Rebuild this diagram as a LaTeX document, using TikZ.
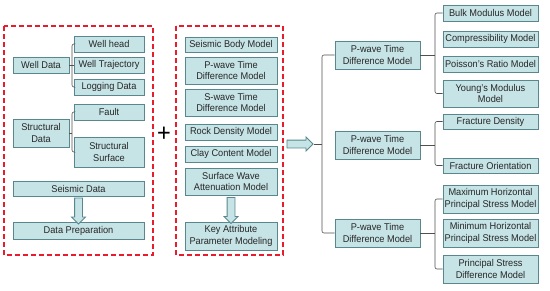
\documentclass[tikz,border=0pt]{standalone}
\usepackage{fontspec}
\setmainfont{Liberation Sans}[FakeStretch=0.94]
\usetikzlibrary{shapes.arrows,calc}
\definecolor{boxfill}{RGB}{198,227,230}
\definecolor{boxline}{RGB}{88,136,142}
\definecolor{redd}{RGB}{232,28,44}
\definecolor{brk}{RGB}{80,80,80}
\begin{document}
\begin{tikzpicture}[x=1pt,y=-1pt,
  box/.style={draw=boxline,fill=boxfill,line width=0.8pt,inner sep=0pt,align=center,
    text=black!85,font=\fontsize{9.8}{11.5}\selectfont},
  redbox/.style={draw=redd,line width=1.5pt,dash pattern=on 5pt off 3pt},
  br/.style={draw=brk,line width=0.6pt,rounded corners=2pt},
  blockarrow/.style={single arrow,draw=boxline,fill=boxfill,line width=0.8pt,
    inner sep=3.5pt,single arrow head extend=3pt,minimum height=26pt}]
\useasboundingbox (0,0) rectangle (550,290);
% red dashed frames
\draw[redbox] (4,26) rectangle (153,255);
\draw[redbox] (176,26) rectangle (283,255);
% left group
\node[box,minimum width=56,minimum height=16] (welldata) at (41,65) {Well Data};
\node[box,minimum width=70,minimum height=16] (wellhead) at (109,44) {Well head};
\node[box,minimum width=70,minimum height=16] (welltraj) at (109,65) {Well Trajectory};
\node[box,minimum width=70,minimum height=16] (logging) at (109,87) {Logging Data};
\node[box,minimum width=70,minimum height=16] (fault) at (109,112) {Fault};
\node[box,minimum width=56,minimum height=28] (structdata) at (41,133) {Structural\\Data};
\node[box,minimum width=70,minimum height=30] (structsurf) at (109,152) {Structural\\Surface};
\node[box,minimum width=131,minimum height=15] (seisdata) at (78.5,188.5) {Seismic Data};
\node[box,minimum width=131,minimum height=17] (dataprep) at (78.5,230.5) {Data Preparation};
\node[blockarrow,rotate=-90] (arrL) at ($(seisdata.south)!0.5!(dataprep.north)$) {};
\coordinate (bL1) at (72,65);
\coordinate (bL2) at (72,133);
\draw[br] (wellhead.west) -| (bL1) |- (logging.west);
\draw[br] (welldata.east) -- (welltraj.west);
\draw[br] (fault.west) -| (bL2) |- (structsurf.west);
\draw[br] (structdata.east) -- (bL2);
% plus
\node[font=\fontsize{25}{25}\selectfont,inner sep=0pt] (plus) at (164,134) {+};
% middle group
\node[box,minimum width=92,minimum height=15] (sbm) at (231,44.5) {Seismic Body Model};
\node[box,minimum width=92,minimum height=27] (pwm) at (231,70.5) {P-wave Time\\Difference Model};
\node[box,minimum width=92,minimum height=27] (swm) at (231,102.5) {S-wave Time\\Difference Model};
\node[box,minimum width=92,minimum height=16] (rock) at (231,132) {Rock Density Model};
\node[box,minimum width=92,minimum height=16] (clay) at (231,154) {Clay Content Model};
\node[box,minimum width=92,minimum height=27] (swa) at (231,181.5) {Surface Wave\\Attenuation Model};
\node[box,minimum width=92,minimum height=28] (key) at (231,236) {Key Attribute\\Parameter Modeling};
\node[blockarrow,rotate=-90] (arrM) at ($(swa.south)!0.5!(key.north)$) {};
% right arrow and brace
\node[blockarrow] (arrR) at (298,144) {};
\node[box,minimum width=85,minimum height=28] (p1) at (377.5,55) {P-wave Time\\Difference Model};
\node[box,minimum width=85,minimum height=28] (p2) at (377.5,145) {P-wave Time\\Difference Model};
\node[box,minimum width=85,minimum height=28] (p3) at (377.5,233) {P-wave Time\\Difference Model};
\coordinate (bM) at (322,144);
\draw[br] (p1.west) -| (bM) |- (p3.west);
\draw[br] (arrR.tip) -- (bM);
% right column
\node[box,minimum width=95,minimum height=16] (bulk) at (490.5,13) {Bulk Modulus Model};
\node[box,minimum width=95,minimum height=16] (comp) at (490.5,39) {Compressibility Model};
\node[box,minimum width=95,minimum height=16] (pois) at (490.5,64) {Poisson's Ratio Model};
\node[box,minimum width=95,minimum height=27] (young) at (490.5,93.5) {Young's Modulus\\Model};
\node[box,minimum width=95,minimum height=15] (fdens) at (490.5,121.5) {Fracture Density};
\node[box,minimum width=95,minimum height=15] (fori) at (490.5,165.5) {Fracture Orientation};
\node[box,minimum width=95,minimum height=28] (maxh) at (490.5,199) {Maximum Horizontal\\Principal Stress Model};
\node[box,minimum width=95,minimum height=28] (minh) at (490.5,233) {Minimum Horizontal\\Principal Stress Model};
\node[box,minimum width=95,minimum height=28] (psd) at (490.5,269) {Principal Stress\\Difference Model};
\coordinate (bR1) at (435,55);
\coordinate (bR2) at (435,145);
\coordinate (bR3) at (435,233);
\draw[br] (bulk.west) -| (bR1) |- (young.west);
\draw[br] (p1.east) -- (bR1);
\draw[br] (fdens.west) -| (bR2) |- (fori.west);
\draw[br] (p2.east) -- (bR2);
\draw[br] (maxh.west) -| (bR3) |- (psd.west);
\draw[br] (p3.east) -- (bR3);
\end{tikzpicture}
\end{document}
